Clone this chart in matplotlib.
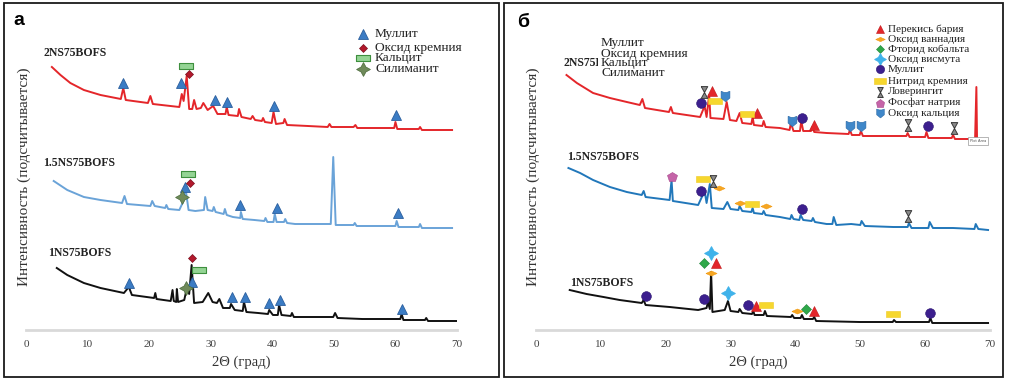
import matplotlib
matplotlib.use('Agg')
import matplotlib.pyplot as plt
from matplotlib.path import Path
from matplotlib.lines import Line2D
from matplotlib.patches import Rectangle

# ---------------- DATA (2θ, intensity in arbitrary units) ----------------
# Panel а
a_red_x = [4.2, 5.6, 7.2, 9.4, 12.1, 15.4, 15.8, 16.2, 19.8, 20.2, 20.6, 24.9, 25.3, 25.6, 26.1, 26.5, 27.0, 27.3, 27.7,
           28.4, 28.8, 29.5, 30.4, 31.1, 32.4, 32.6, 32.9, 34.4, 34.6, 35.0, 36.5, 36.8, 37.2, 38.3, 38.5, 38.8, 39.9, 40.2,
           40.6, 41.8, 42.0, 42.4, 45.8, 49.0, 49.3, 49.6, 53.2, 53.5, 53.8, 56.7, 59.8, 60.0, 60.3, 63.8, 64.0, 64.3, 69.2]
a_red_y = [263, 255, 247, 240, 235, 231, 242, 230, 227, 234, 226, 223, 236, 229, 254, 221, 221, 230, 221,
           222, 227, 220, 224, 216, 216, 223, 215, 214, 221, 213, 211, 214, 210, 209, 212, 208, 207, 218,
           206, 207, 211, 205, 204, 203, 206, 203, 203, 205, 202, 202, 202, 208, 201, 201, 203, 200, 200]

a_blue_x = [4.5, 6.7, 9.4, 12.1, 15.6, 16.0, 16.4, 20.2, 20.5, 20.9, 22.6, 22.8, 23.1, 24.9, 25.5, 25.9, 26.4, 27.5, 28.9,
            29.1, 29.5, 30.3, 30.5, 30.8, 32.1, 32.3, 32.6, 33.6, 34.8, 34.9, 35.2, 37.1, 38.7, 38.9, 39.2, 40.2, 40.4, 40.7,
            41.9, 42.1, 42.4, 43.7, 47.5, 49.5, 49.9, 50.3, 53.2, 53.4, 53.7, 56.7, 60.0, 60.2, 60.5, 63.8, 64.0, 64.3, 69.2]
a_blue_y = [149, 140, 133, 130, 127, 134, 126, 124, 129, 124, 122, 125, 121, 120, 128, 142, 120, 119, 120,
            133, 120, 119, 123, 118, 116, 121, 115, 113, 112, 118, 111, 110, 109, 112, 108, 108, 116, 108,
            108, 111, 107, 106, 106, 106, 173, 105, 105, 107, 104, 104, 104, 109, 103, 103, 106, 102, 102]

a_black_x = [5.0, 6.7, 9.4, 12.1, 15.9, 16.7, 17.2, 20.8, 21.0, 21.2, 23.5, 23.8, 24.0, 24.4, 24.5, 24.7, 25.7, 26.2, 26.5,
             26.9, 27.3, 28.7, 29.6, 30.3, 31.0, 31.4, 32.0, 33.1, 33.3, 33.9, 35.2, 35.4, 35.8, 37.7, 39.3, 39.5, 40.1,
             40.9, 41.1, 41.5, 43.0, 43.2, 43.5, 45.8, 49.9, 50.2, 50.6, 54.6, 57.8, 60.8, 61.0, 61.3, 64.8, 65.0, 65.3, 70.0]
a_black_y = [62, 55, 47, 42, 37, 43, 35, 32, 37, 31, 29, 40, 29, 28, 41, 28, 30, 44, 36,
             65, 27, 28, 37, 28, 27, 31, 22, 22, 26, 20, 19, 28, 18, 17, 16, 20, 15,
             15, 25, 15, 14, 17, 13, 13, 13, 17, 12, 11, 11, 11, 16, 10, 10, 12, 9, 9]

a_mullite_x = [15.8, 25.2, 30.7, 32.7, 40.2, 60.1, 25.9, 34.8, 40.7, 60.4, 16.8, 26.9, 33.4, 35.5, 39.4, 41.2, 61.0]
a_mullite_y = [247, 247, 230, 228, 224, 215, 143, 125, 122, 117, 47, 48, 33, 33, 27, 30, 21]
a_silica_x = [26.4, 26.7, 27.0]
a_silica_y = [256, 147, 72]
a_calcite_x = [26.0, 26.3, 28.1]
a_calcite_y = [264, 156, 60]
a_sillim_x = [25.3, 26.0]
a_sillim_y = [133, 42]

a_legend = ['Муллит', 'Оксид кремния', 'Кальцит', 'Силиманит']
a_samples = ['2NS75BOFS', '1.5NS75BOFS', '1NS75BOFS']

# Panel б
b_red_x = [4.7, 6.3, 8.8, 11.4, 14.0, 16.0, 16.4, 16.8, 20.5, 20.8, 21.1, 25.3, 26.0, 26.3, 26.7, 26.9, 28.9, 29.4, 29.9,
           30.9, 31.4, 31.8, 33.2, 33.4, 33.6, 34.9, 35.1, 35.4, 37.6, 39.1, 39.3, 39.7, 40.7, 40.9, 41.2, 42.4, 42.6, 42.9,
           44.8, 48.2, 48.4, 48.7, 49.9, 50.1, 50.4, 52.5, 57.1, 57.3, 57.6, 60.0, 60.2, 60.5, 64.1, 64.3, 64.6, 67.7,
           67.9, 68.0, 68.3]
b_red_y = [255, 247, 237, 232, 228, 225, 231, 222, 218, 223, 217, 213, 224, 213, 235, 212, 211, 228, 210,
           209, 217, 207, 206, 213, 205, 204, 209, 203, 202, 200, 207, 199, 199, 209, 199, 199, 203, 198,
           197, 196, 200, 195, 195, 199, 194, 194, 194, 197, 193, 193, 198, 192, 192, 195, 191, 191,
           243, 191, 191]

b_blue_x = [5.0, 6.8, 8.8, 11.4, 14.0, 16.3, 16.6, 16.9, 20.6, 20.9, 21.1, 25.0, 26.0, 26.3, 26.8, 27.1, 28.9, 29.5, 30.0,
            31.2, 31.4, 31.8, 33.2, 33.4, 33.6, 34.9, 35.1, 35.4, 37.6, 39.2, 39.4, 39.7, 40.6, 40.8, 41.2, 42.5, 42.7, 43.0,
            44.8, 45.7, 45.9, 46.3, 48.6, 50.0, 50.2, 50.7, 55.1, 57.3, 57.5, 57.9, 60.5, 60.7, 61.2, 64.3, 67.6, 67.8,
            68.2, 69.7]
b_blue_y = [162, 157, 150, 143, 138, 135, 139, 133, 130, 150, 129, 125, 139, 127, 146, 122, 121, 128, 121,
            120, 124, 119, 118, 122, 117, 116, 119, 115, 113, 111, 115, 111, 110, 115, 110, 109, 112, 108,
            106, 106, 113, 105, 106, 105, 109, 104, 103, 103, 107, 102, 102, 108, 102, 102, 101, 106,
            101, 100]

b_black_x = [5.2, 7.8, 10.4, 12.9, 16.3, 16.6, 16.9, 20.6, 25.0, 26.3, 26.5, 26.8, 27.0, 27.2, 29.1, 29.6, 30.0, 31.2,
             31.4, 31.8, 33.3, 33.5, 33.7, 35.1, 35.3, 35.6, 39.3, 39.5, 39.8, 40.8, 41.0, 41.3, 42.7, 42.9, 43.2, 49.9,
             55.0, 55.2, 55.5, 60.6, 60.8, 61.1, 69.7]
b_black_y = [40, 36, 33, 30, 27, 30, 25, 23, 20, 22, 28, 21, 58, 18, 20, 29, 19, 18,
             21, 17, 16, 19, 15, 15, 19, 14, 13, 15, 12, 12, 15, 11, 11, 13, 9, 8,
             8, 10, 8, 8, 12, 7, 7]

b_bao2_x = [27.2, 34.0, 42.8, 27.7, 33.9, 42.8]
b_bao2_y = [239, 217, 205, 67, 24, 19]
b_v_x = [28.2, 31.4, 35.4, 27.0, 40.2]
b_v_y = [142, 127, 124, 57, 19]
b_cof_x = [25.9, 41.7]
b_cof_y = [67, 21]
b_bi_x = [27.0, 29.6]
b_bi_y = [77, 37]
b_mull_x = [25.5, 41.0, 60.4, 25.4, 41.0, 16.9, 25.9, 32.7, 60.8]
b_mull_y = [227, 212, 204, 139, 121, 34, 31, 25, 17]
b_sin_x = [27.6, 32.6, 25.8, 33.3, 35.4, 55.1]
b_sin_y = [229, 216, 151, 126, 25, 16]
b_lov_x = [25.9, 57.4, 64.4, 27.3, 57.4]
b_lov_y = [238, 205, 202, 149, 114]
b_nap_x = [21.0]
b_nap_y = [153]
b_cao_x = [29.2, 39.5, 48.4, 50.1]
b_cao_y = [234, 209, 204, 204]

b_legend = ['Перекись бария', 'Оксид ваннадия', 'Фторид кобальта', 'Оксид висмута', 'Муллит',
            'Нитрид кремния', 'Ловерингит', 'Фосфат натрия', 'Оксид кальция']
ticks = [0, 10, 20, 30, 40, 50, 60, 70]

# ---------------- STYLE ----------------
plt.rcParams['font.family'] = ['Liberation Serif', 'DejaVu Serif']
W, H = 1010, 381
fig = plt.figure(figsize=(W / 100, H / 100), dpi=100)


def fx(px):
    return px / W


def fy(py):
    return 1 - py / H


rect_m = Path([(-1, -0.45), (1, -0.45), (1, 0.45), (-1, 0.45), (-1, -0.45)])
flat_d = Path([(-1, 0), (0, 0.45), (1, 0), (0, -0.45), (-1, 0)])
hourg = Path([(-0.55, 1), (0.55, 1), (0, 0), (0.55, -1), (-0.55, -1), (0, 0), (-0.55, 1)])
shield = Path([(-0.85, 1), (-0.3, 0.8), (0.3, 0.8), (0.85, 1), (0.85, -0.3), (0, -1), (-0.85, -0.3), (-0.85, 1)])

st_a = {
    'Муллит': dict(marker='^', ms=7.5, mfc='#3b7cc4', mec='#2b5f9e', mew=0.6),
    'Оксид кремния': dict(marker='D', ms=4.2, mfc='#b3192c', mec='#7a1020', mew=0.5),
    'Кальцит': dict(marker=rect_m, ms=10, mfc='#94d494', mec='#3e8f3e', mew=0.8),
    'Силиманит': dict(marker=(4, 1, 0), ms=10, mfc='#6f8a5a', mec='#4a6a3a', mew=0.5),
}
st_b = {
    'Перекись бария': dict(marker='^', ms=6.5, mfc='#e3262b', mec='#c01818', mew=0.4),
    'Оксид ваннадия': dict(marker=flat_d, ms=8, mfc='#f6a623', mec='#f19a10', mew=0.4),
    'Фторид кобальта': dict(marker='D', ms=5, mfc='#2fa84a', mec='#20853a', mew=0.4),
    'Оксид висмута': dict(marker=(4, 1, 0), ms=10, mfc='#3fb2ea', mec='#3fb2ea', mew=0.6),
    'Муллит': dict(marker='o', ms=7, mfc='#3c1f8e', mec='#2a1470', mew=0.4),
    'Нитрид кремния': dict(marker=rect_m, ms=10, mfc='#f6d72e', mec='#f0c820', mew=0.4),
    'Ловерингит': dict(marker=hourg, ms=8.5, mfc='#8a8a8a', mec='#3a3a3a', mew=0.7),
    'Фосфат натрия': dict(marker='p', ms=7.5, mfc='#c564a8', mec='#a8488c', mew=0.4),
    'Оксид кальция': dict(marker=shield, ms=7.5, mfc='#3f87c9', mec='#2c6aa6', mew=0.4),
}

axA = fig.add_axes([fx(26), fy(330), (457 - 26) / W, 290 / H])
axB = fig.add_axes([fx(536), fy(330), (990 - 536) / W, 290 / H])
for ax in (axA, axB):
    ax.set_xlim(0, 70)
    ax.set_ylim(0, 290)
    ax.patch.set_alpha(0)
    for s in ('top', 'right', 'left'):
        ax.spines[s].set_visible(False)
    ax.spines['bottom'].set_color('#d9d9d9')
    ax.spines['bottom'].set_linewidth(2)
    ax.set_yticks([])
    ax.set_xticks(ticks)
    ax.set_xticklabels([str(t) for t in ticks])
    ax.tick_params(axis='x', length=0, pad=7, labelsize=8, labelcolor='#404040')

# curves panel а
axA.plot(a_red_x, a_red_y, color='#e4262a', lw=1.4)
axA.plot(a_blue_x, a_blue_y, color='#6aa3d8', lw=1.4)
axA.plot(a_black_x, a_black_y, color='#111111', lw=1.4)


def mk(ax, x, y, st):
    ax.plot(x, y, linestyle='none', clip_on=False, zorder=5, **st)


mk(axA, a_mullite_x, a_mullite_y, st_a['Муллит'])
mk(axA, a_silica_x, a_silica_y, st_a['Оксид кремния'])
mk(axA, a_calcite_x, a_calcite_y, st_a['Кальцит'])
mk(axA, a_sillim_x, a_sillim_y, st_a['Силиманит'])

# curves panel б
axB.plot(b_red_x, b_red_y, color='#e4262a', lw=1.4)
axB.plot(b_blue_x, b_blue_y, color='#2177ba', lw=1.4)
axB.plot(b_black_x, b_black_y, color='#111111', lw=1.4)

mk(axB, b_bao2_x, b_bao2_y, st_b['Перекись бария'])
mk(axB, b_v_x, b_v_y, st_b['Оксид ваннадия'])
mk(axB, b_cof_x, b_cof_y, st_b['Фторид кобальта'])
mk(axB, b_bi_x, b_bi_y, st_b['Оксид висмута'])
mk(axB, b_mull_x, b_mull_y, st_b['Муллит'])
mk(axB, b_sin_x, b_sin_y, st_b['Нитрид кремния'])
mk(axB, b_lov_x, b_lov_y, st_b['Ловерингит'])
mk(axB, b_nap_x, b_nap_y, st_b['Фосфат натрия'])
mk(axB, b_cao_x, b_cao_y, st_b['Оксид кальция'])

# panel frames
fig.add_artist(Rectangle((fx(4), fy(377)), 495 / W, 374 / H, transform=fig.transFigure,
                         fill=False, ec='#1a1a1a', lw=1.3))
fig.add_artist(Rectangle((fx(504), fy(377)), 499 / W, 374 / H, transform=fig.transFigure,
                         fill=False, ec='#1a1a1a', lw=1.3))

# panel letters
fig.text(fx(13), fy(25), 'а', fontsize=14, fontweight='bold', family=['Liberation Sans', 'DejaVu Sans'],
         va='baseline', ha='left')
fig.text(fx(517), fy(27), 'б', fontsize=14, fontweight='bold', family=['Liberation Sans', 'DejaVu Sans'],
         va='baseline', ha='left')

# axis labels
for xc in (24, 533):
    fig.text(fx(xc), fy(177), 'Интенсивность (подсчитывается)', rotation=90, ha='center', va='center',
             fontsize=11, color='#333333')
fig.text(fx(241), fy(362), '2Θ (град)', ha='center', va='center', fontsize=10.5, color='#333333')
fig.text(fx(758), fy(362), '2Θ (град)', ha='center', va='center', fontsize=10.5, color='#333333')

# sample labels
for (px, py), s in zip([(43, 53), (43, 163), (48, 253)], a_samples):
    fig.text(fx(px), fy(py), s, fontsize=8.5, fontweight='bold', ha='left', va='center', color='#222222')
for (px, py), s in zip([(563, 63), (567, 157), (570, 283)], a_samples):
    fig.text(fx(px), fy(py), s, fontsize=8.5, fontweight='bold', ha='left', va='center', color='#222222',
             zorder=3)

# legend panel а
for py, lab in zip([34.3, 47.7, 58.3, 69], a_legend):
    st = dict(st_a[lab])
    fig.add_artist(Line2D([fx(363)], [fy(py)], transform=fig.transFigure, linestyle='none', **st))
    fig.text(fx(375), fy(py), lab, fontsize=9.6, ha='left', va='center', color='#222222')

# stray legend text in panel б (covers part of sample label)
fig.add_artist(Rectangle((fx(598), fy(80)), 100 / W, 44 / H, transform=fig.transFigure,
                         fc='white', ec='none', zorder=4))
for py, lab in zip([43.3, 54.3, 63.3, 73.3], a_legend):
    fig.text(fx(601), fy(py), lab, fontsize=9.6, ha='left', va='center', color='#222222', zorder=5)

# legend panel б
for py, lab in zip([29, 39, 49.3, 59.3, 69.3, 81, 91.7, 102.7, 113.3], b_legend):
    st = dict(st_b[lab])
    st['ms'] = st['ms'] * 0.85
    fig.add_artist(Line2D([fx(880)], [fy(py)], transform=fig.transFigure, linestyle='none', **st))
    fig.text(fx(888), fy(py), lab, fontsize=8.1, ha='left', va='center', color='#222222')

# tooltip box
fig.text(fx(978), fy(141), 'Plot Area', fontsize=2.6, ha='center', va='center', color='#555555',
         family=['DejaVu Sans'],
         bbox=dict(boxstyle='square,pad=0.6', fc='white', ec='#999999', lw=0.5))

fig.savefig('out.png', dpi=100)
